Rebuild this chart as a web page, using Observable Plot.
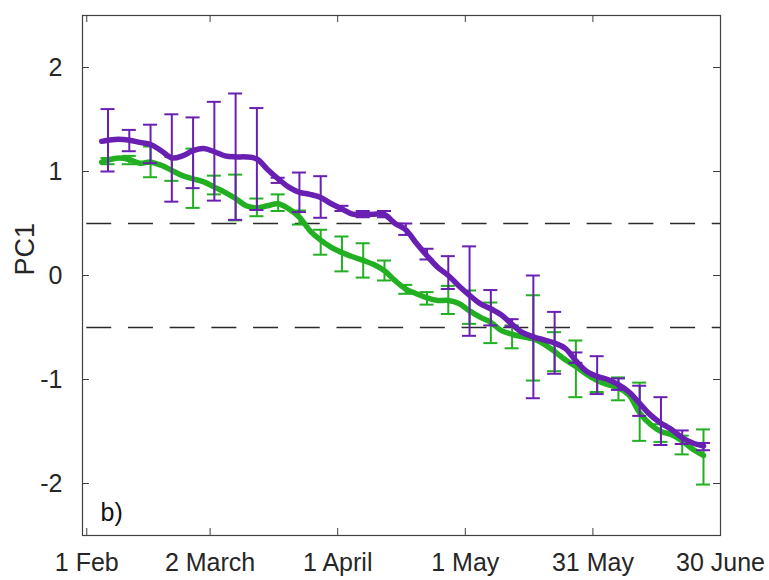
<!DOCTYPE html>
<html>
<head>
<meta charset="utf-8">
<script src="https://cdn.jsdelivr.net/npm/d3@7"></script>
<script src="https://cdn.jsdelivr.net/npm/@observablehq/plot@0.6"></script>
<style>
  html, body { margin: 0; padding: 0; background: #fff; }
  #chart svg { display: block; }
</style>
</head>
<body>
<div id="chart"></div>
<script>
// ---- data (day of year) ----
const xTicks = [32, 61, 91, 121, 151, 181];
const xTickLabels = ["1 Feb", "2 March", "1 April", "1 May", "31 May", "30 June"];
const yTicks = [-2, -1, 0, 1, 2];
const thresholds = [0.5, -0.5];

const barDays = [37, 42, 47, 52, 57, 62, 67, 72, 77, 82, 87, 92, 97, 102, 107, 112, 117, 122, 127, 132, 137, 142, 147, 152, 157, 162, 167, 172, 177];
const purpleLo = [1.00, 1.195, 1.08, 0.71, 0.84, 0.72, 0.535, 0.63, 0.89, 0.61, 0.555, 0.62, 0.56, 0.56, 0.39, 0.154, -0.13, -0.58, -0.48, -0.49, -1.18, -0.945, -0.84, -1.14, -1.10, -1.35, -1.63, -1.62, -1.68];
const purpleHi = [1.60, 1.40, 1.45, 1.55, 1.52, 1.67, 1.75, 1.61, 0.94, 0.99, 0.955, 0.67, 0.62, 0.62, 0.50, 0.257, 0.186, 0.28, -0.14, -0.42, 0.0, -0.35, -0.74, -0.776, -0.99, -1.06, -1.17, -1.49, -1.61];
const greenLo = [1.07, 1.07, 0.945, 0.91, 0.65, 0.78, 0.53, 0.57, 0.62, 0.49, 0.20, 0.04, -0.02, -0.048, -0.176, -0.28, -0.37, -0.465, -0.65, -0.70, -1.01, -0.92, -1.17, -1.12, -1.20, -1.59, -1.60, -1.72, -2.01];
const greenHi = [1.13, 1.15, 1.24, 1.14, 1.22, 0.96, 0.97, 0.74, 0.78, 0.625, 0.44, 0.375, 0.31, 0.144, -0.09, -0.16, -0.10, -0.144, -0.26, -0.48, -0.19, -0.545, -0.625, -0.99, -0.98, -1.03, -1.43, -1.54, -1.48];

const lineDays = [35.5, 37, 39.5, 42, 44.5, 47, 49.5, 52, 54.5, 57, 59.5, 62, 64.5, 67, 69.5, 72, 74.5, 77, 79.5, 82, 84.5, 87, 89.5, 92, 94.5, 97, 99.5, 102, 104.5, 107, 109.5, 112, 114.5, 117, 119.5, 122, 124.5, 127, 129.5, 132, 134.5, 137, 139.5, 142, 144.5, 147, 149.5, 152, 154.5, 157, 159.5, 162, 164.5, 167, 169.5, 172, 174.5, 177];
const purpleLine = [1.29, 1.30, 1.31, 1.30, 1.28, 1.26, 1.20, 1.13, 1.15, 1.20, 1.22, 1.19, 1.15, 1.14, 1.14, 1.12, 1.02, 0.93, 0.85, 0.80, 0.78, 0.75, 0.69, 0.64, 0.59, 0.585, 0.59, 0.585, 0.50, 0.44, 0.31, 0.19, 0.08, 0.0, -0.10, -0.19, -0.27, -0.32, -0.38, -0.47, -0.55, -0.59, -0.62, -0.65, -0.70, -0.82, -0.92, -0.97, -1.00, -1.05, -1.12, -1.23, -1.34, -1.42, -1.48, -1.56, -1.61, -1.64];
const greenLine = [1.09, 1.11, 1.13, 1.115, 1.08, 1.09, 1.06, 1.01, 0.96, 0.93, 0.90, 0.85, 0.80, 0.74, 0.67, 0.65, 0.67, 0.69, 0.64, 0.56, 0.43, 0.34, 0.27, 0.22, 0.18, 0.145, 0.105, 0.045, -0.05, -0.13, -0.175, -0.215, -0.24, -0.24, -0.27, -0.34, -0.40, -0.45, -0.53, -0.565, -0.59, -0.61, -0.66, -0.73, -0.81, -0.875, -0.95, -1.01, -1.05, -1.08, -1.15, -1.32, -1.43, -1.50, -1.53, -1.59, -1.67, -1.73];

// ---- tables built from the arrays ----
const purpleBars = barDays.map((d, i) => ({day: d, lo: purpleLo[i], hi: purpleHi[i]}));
const greenBars = barDays.map((d, i) => ({day: d, lo: greenLo[i], hi: greenHi[i]}));
const purpleSeries = lineDays.map((d, i) => ({day: d, v: purpleLine[i]}));
const greenSeries = lineDays.map((d, i) => ({day: d, v: greenLine[i]}));

const PURPLE = "#6a1fb3";
const GREEN = "#22b022";
const AXIS = "#404040";
const W = 769, H = 580, ML = 82, MR = 49, MT = 15, MB = 45;
const plotW = W - ML - MR, plotH = H - MT - MB;
const TK = 7;      // inward tick length, px
const CAP = 1.65;  // half cap width in days

function errorMarks(bars, color) {
  return [
    Plot.ruleX(bars, {x: "day", y1: "lo", y2: "hi", stroke: color, strokeWidth: 2}),
    Plot.ruleY(bars, {y: "lo", x1: d => d.day - CAP, x2: d => d.day + CAP, stroke: color, strokeWidth: 2}),
    Plot.ruleY(bars, {y: "hi", x1: d => d.day - CAP, x2: d => d.day + CAP, stroke: color, strokeWidth: 2})
  ];
}

const chart = Plot.plot({
  width: W, height: H,
  marginLeft: ML, marginRight: MR, marginTop: MT, marginBottom: MB,
  style: {fontFamily: "'Liberation Sans', Arial, sans-serif", fontSize: "25px", color: "#262626", background: "#fff"},
  x: {domain: [31, 181]},
  y: {domain: [-2.5, 2.5]},
  marks: [
    Plot.axisX({ticks: xTicks, tickSize: 0, tickPadding: 18, tickFormat: (d, i) => xTickLabels[i], label: null, fontSize: 25}),
    Plot.axisY({ticks: yTicks, tickSize: 0, tickPadding: 20, tickFormat: d => d < 0 ? "-" + Math.abs(d) : String(d), label: null, fontSize: 25}),
    Plot.text(["PC1"], {frameAnchor: "left", dx: -57, rotate: -90, fontSize: 27, fill: "#262626"}),
    Plot.ruleY(thresholds, {x1: xTicks[0], x2: 181, stroke: "#2a2a2a", strokeWidth: 1.4, strokeDasharray: "25,16.7"}),
    ...errorMarks(greenBars, GREEN),
    Plot.line(greenSeries, {x: "day", y: "v", stroke: GREEN, strokeWidth: 5.5, curve: "catmull-rom"}),
    ...errorMarks(purpleBars, PURPLE),
    Plot.line(purpleSeries, {x: "day", y: "v", stroke: PURPLE, strokeWidth: 5.5, curve: "catmull-rom"}),
    Plot.tickX(xTicks, {x: d => d, stroke: AXIS, strokeWidth: 1, insetTop: plotH - TK}),
    Plot.tickX(xTicks, {x: d => d, stroke: AXIS, strokeWidth: 1, insetBottom: plotH - TK}),
    Plot.tickY(yTicks, {y: d => d, stroke: AXIS, strokeWidth: 1, insetRight: plotW - TK}),
    Plot.tickY(yTicks, {y: d => d, stroke: AXIS, strokeWidth: 1, insetLeft: plotW - TK}),
    Plot.frame({stroke: AXIS, strokeWidth: 1.2}),
    Plot.text(["b)"], {frameAnchor: "bottom-left", dx: 18, dy: -15, fontSize: 25, fill: "#111"})
  ]
});
document.getElementById("chart").appendChild(chart);
</script>
</body>
</html>
